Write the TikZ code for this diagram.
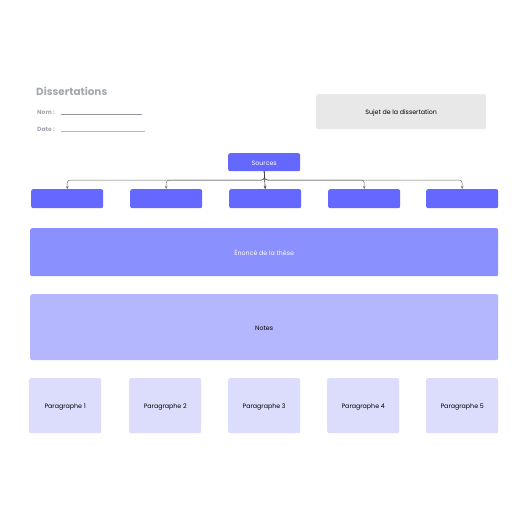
\documentclass[tikz,border=0pt]{standalone}
\usepackage{fontspec}
\setmainfont{Poppins}
\usetikzlibrary{arrows.meta}
\definecolor{srcblue}{HTML}{6568FE}
\definecolor{thesis}{HTML}{8A90FE}
\definecolor{notes}{HTML}{B4B7FE}
\definecolor{para}{HTML}{DCDCFC}
\definecolor{sujet}{HTML}{E8E8E8}
\definecolor{titlegray}{HTML}{A3A7B0}
\definecolor{conn}{HTML}{707070}
\begin{document}
\begin{tikzpicture}[x=1pt,y=-1pt,
  box/.style={rounded corners=2pt,inner sep=0pt,anchor=north west},
  lbl/.style={font=\fontsize{6.3}{7}\selectfont,text height=8pt,text depth=1.5pt},
  arr/.style={draw=conn,line width=0.5pt,rounded corners=3pt,-{Stealth[length=3pt,width=2.5pt]}}]
\useasboundingbox (0,0) rectangle (516,516);
\fill[white] (0,0) rectangle (516,516);
% header
\node[anchor=west,font=\bfseries\fontsize{10.4}{11}\selectfont,text=titlegray,inner sep=0pt] (title) at (36,91) {Dissertations};
\node[anchor=west,font=\bfseries\fontsize{6}{7}\selectfont,text=titlegray,inner sep=0pt] (nom) at (37,112) {Nom :};
\node[anchor=west,font=\bfseries\fontsize{6}{7}\selectfont,text=titlegray,inner sep=0pt] (date) at (37,129) {Date :};
\coordinate (n1) at (61,114); \coordinate (n2) at (142,114);
\coordinate (d1) at (61,131); \coordinate (d2) at (145,131);
\draw[titlegray!90!black,line width=0.6pt] (n1) -- (n2);
\draw[titlegray!80,line width=0.6pt] (d1) -- (d2);
\node[box,fill=sujet,minimum width=170pt,minimum height=35pt,lbl] (sujet) at (316,94) {Sujet de la dissertation};
% sources
\node[box,fill=srcblue,minimum width=72pt,minimum height=18pt,lbl,text=white] (src) at (228,153) {Sources};
\foreach \i/\x in {1/31,2/130,3/229,4/328,5/426}{
  \node[box,fill=srcblue,minimum width=72pt,minimum height=19pt] (s\i) at (\x,189) {};
}
\coordinate (hub) at (264.5,180);
\foreach \i in {1,2,4,5}{
  \draw[arr] (src.south) -- (hub) -| (s\i.north);
}
\draw[draw=black!80,line width=0.6pt,-{Stealth[length=3pt,width=2.5pt]}] (src.south) -- (s3.north);
% thesis & notes
\node[box,fill=thesis,minimum width=468pt,minimum height=48pt,lbl,text=white] (these) at (30,228) {Énoncé de la thèse};
\node[box,fill=notes,minimum width=468pt,minimum height=66pt,lbl] (notesbox) at (30,294) {Notes};
% paragraphs
\foreach \i/\x in {1/29,2/129,3/228,4/327,5/426}{
  \node[box,fill=para,minimum width=72pt,minimum height=55pt,lbl] (p\i) at (\x,378) {Paragraphe \i};
}
\end{tikzpicture}
\end{document}
